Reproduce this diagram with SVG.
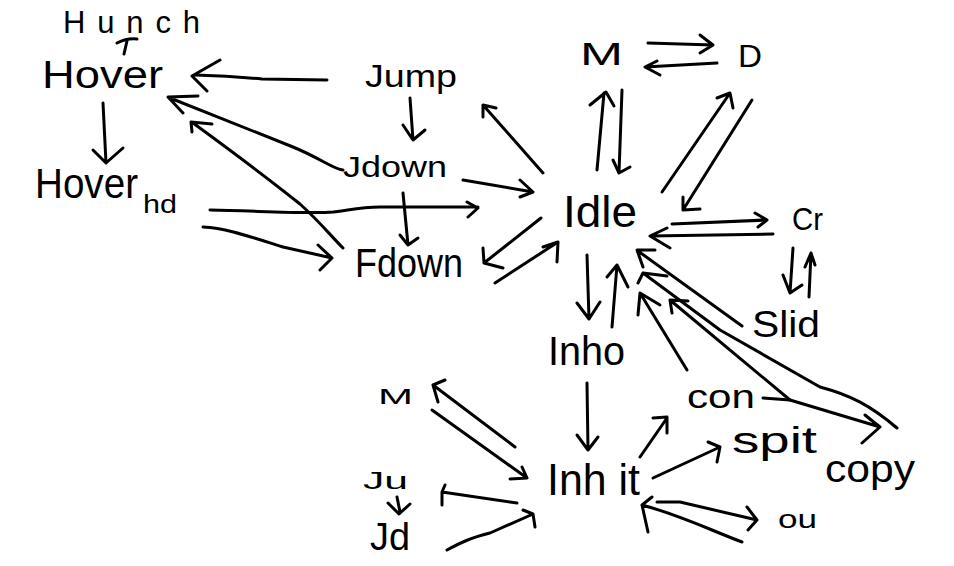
<svg xmlns="http://www.w3.org/2000/svg" width="954" height="566" viewBox="0 0 954 566">
<style>
text{font-family:"Liberation Sans","DejaVu Sans",sans-serif;fill:#000}
.c path{fill:none;stroke:#000;stroke-width:3;stroke-linecap:round;stroke-linejoin:round}
</style>
<rect width="954" height="566" fill="#fff"/>
<g id="hunch"><text x="63" y="33" font-size="31" textLength="137" lengthAdjust="spacing">Hunch</text></g>
<g id="hover"><text x="42" y="88" font-size="38" textLength="121" lengthAdjust="spacingAndGlyphs">Hover</text></g>
<g id="hoverhd"><text x="35" y="198" font-size="42" textLength="103" lengthAdjust="spacingAndGlyphs">Hover</text><text x="143" y="213" font-size="26" textLength="34" lengthAdjust="spacingAndGlyphs">hd</text></g>
<g id="jump"><text x="365" y="87" font-size="32" textLength="92" lengthAdjust="spacingAndGlyphs">Jump</text></g>
<g id="jdown"><text x="343" y="177" font-size="30" textLength="104" lengthAdjust="spacingAndGlyphs">Jdown</text></g>
<g id="fdown"><text x="355" y="277" font-size="40" textLength="108" lengthAdjust="spacingAndGlyphs">Fdown</text></g>
<g id="m-top"><text x="580" y="65" font-size="32" textLength="43" lengthAdjust="spacingAndGlyphs">M</text></g>
<g id="d"><text x="738" y="67" font-size="32" textLength="24" lengthAdjust="spacingAndGlyphs">D</text></g>
<g id="idle"><text x="563" y="227" font-size="44" textLength="74" lengthAdjust="spacingAndGlyphs">Idle</text></g>
<g id="cr"><text x="792" y="230" font-size="32" textLength="31" lengthAdjust="spacingAndGlyphs">Cr</text></g>
<g id="slid"><text x="752" y="337" font-size="36" textLength="68" lengthAdjust="spacingAndGlyphs">Slid</text></g>
<g id="inho"><text x="548" y="365" font-size="40" textLength="77" lengthAdjust="spacingAndGlyphs">Inho</text></g>
<g id="inhit"><text x="547" y="495" font-size="44" textLength="93" lengthAdjust="spacingAndGlyphs">Inh it</text></g>
<g id="con"><text x="687" y="408" font-size="34" textLength="68" lengthAdjust="spacingAndGlyphs">con</text></g>
<g id="spit"><text x="732" y="453" font-size="36" textLength="85" lengthAdjust="spacingAndGlyphs">spit</text></g>
<g id="copy"><text x="825" y="482" font-size="38" textLength="90" lengthAdjust="spacingAndGlyphs">copy</text></g>
<g id="ou"><text x="778" y="528" font-size="26" textLength="39" lengthAdjust="spacingAndGlyphs">ou</text></g>
<g id="m-bottom"><text x="378" y="404" font-size="22" textLength="35" lengthAdjust="spacingAndGlyphs">M</text></g>
<g id="ju"><text x="363" y="489" font-size="24" textLength="45" lengthAdjust="spacingAndGlyphs">Ju</text></g>
<g id="jd"><text x="370" y="550" font-size="38" textLength="40" lengthAdjust="spacingAndGlyphs">Jd</text></g>
<g id="connectors" class="c">
<path d="M124,54 L127,41 M117,43 Q127,38 137,39"/>
<path d="M327,80 L262,79 Q230,76 195,75 M220,60 L192,76 L207,91"/>
<path d="M103,103 L106,163 M93,150 L106,163 L123,148"/>
<path d="M410,98 L413,140 M403,125 L413,140 L425,130"/>
<path d="M343,170 C335,170 320,158 293,147 L170,98 M198,96 L168,97 L183,113"/>
<path d="M343,248 C330,235 320,222 300,204 C270,180 230,150 193,123 M212,124 L191,122 L192,132"/>
<path d="M210,210 C260,211 310,214 333,212 C350,210 360,207 380,207 L478,207 M467,202 L478,208 L468,217"/>
<path d="M203,227 C225,228 245,235 283,247 L332,258 M318,245 L332,258 L320,270"/>
<path d="M403,193 L408,245 M400,235 L408,245 L418,238"/>
<path d="M463,180 L533,192 M520,180 L533,192 L520,197"/>
<path d="M543,173 L483,105 M483,117 L483,105 L496,108"/>
<path d="M541,218 L484,263 M483,248 L484,263 L503,268"/>
<path d="M495,283 L558,242 M543,247 L558,242 L557,262"/>
<path d="M597,170 L604,93 M590,105 L606,92 L614,106"/>
<path d="M622,90 L619,173 M613,160 L619,173 L630,167"/>
<path d="M648,43 L713,45 M700,35 L713,45 L700,53"/>
<path d="M717,63 L645,67 M657,61 L645,67 L660,75"/>
<path d="M662,192 L730,93 M717,98 L730,93 L733,108"/>
<path d="M752,100 L683,210 M683,197 L683,210 L700,209"/>
<path d="M672,224 L767,220 M755,213 L767,220 L758,227"/>
<path d="M773,234 L650,236 M667,228 L650,236 L670,248"/>
<path d="M793,248 L790,293 M783,275 L790,293 L802,285"/>
<path d="M809,297 L811,253 M805,267 L811,253 L815,265"/>
<path d="M742,326 L638,251 M655,250 L637,250 L643,267"/>
<path d="M897,428 C870,405 850,395 820,387 L720,330 L643,273 M667,276 L643,273 L638,283"/>
<path d="M687,370 L640,293 M638,315 L640,293 L660,305"/>
<path d="M763,398 L790,400 L880,427 M865,415 L880,427 L862,443"/>
<path d="M790,400 L670,300 M672,313 L670,300 L688,301"/>
<path d="M587,255 L589,319 M577,303 L589,319 L600,302"/>
<path d="M612,327 L617,265 M607,277 L617,265 L628,287"/>
<path d="M587,383 L588,450 M577,435 L588,450 L598,437"/>
<path d="M515,447 L433,385 M445,380 L433,385 L438,402"/>
<path d="M432,410 L527,478 M510,479 L527,478 L522,467"/>
<path d="M517,503 L442,492 M445,485 L442,492 L442,505"/>
<path d="M447,550 C460,543 470,538 490,533 L533,514 M523,510 L533,514 L535,527"/>
<path d="M397,497 L400,512 M388,503 L399,514 L410,504"/>
<path d="M640,457 L667,418 M653,418 L667,417 L667,433"/>
<path d="M653,478 L720,447 M708,442 L720,447 L717,462"/>
<path d="M657,502 L680,502 L757,520 M747,507 L757,520 L748,530"/>
<path d="M742,542 C710,530 680,515 642,505 M652,497 L642,505 L648,532"/>
</g>
</svg>
